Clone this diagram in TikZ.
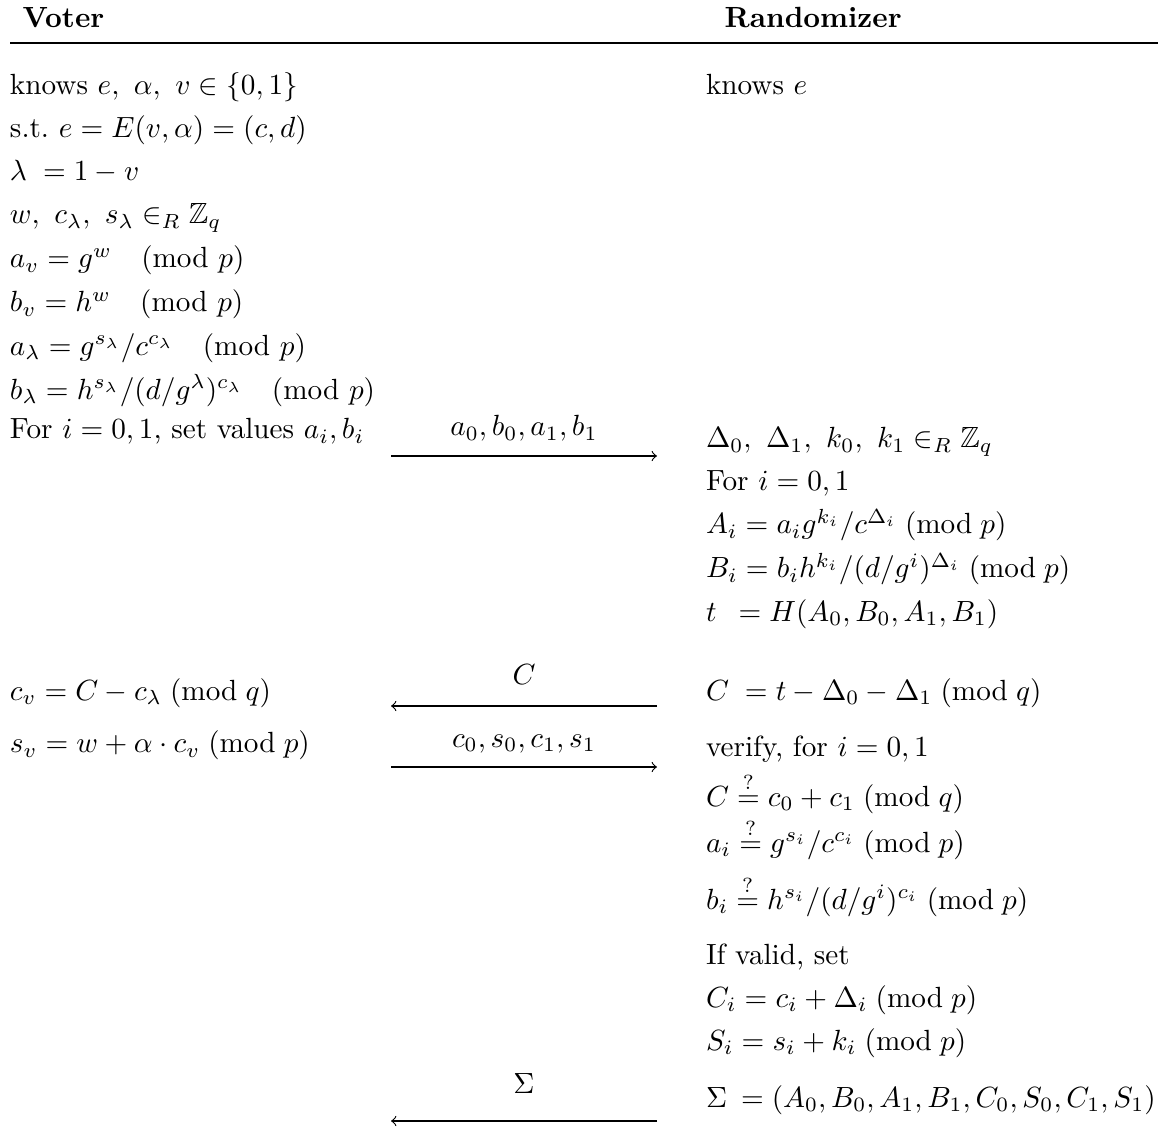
\documentclass[tikz,border=0pt]{standalone}
\usepackage{amsmath,amssymb}
\newcommand{\modx}[1]{\mkern5mu(\mathrm{mod}\mkern5mu #1)}
\begin{document}
\begin{tikzpicture}[x=0.3425pt,y=-0.3425pt,
  txt/.style={anchor=base west,inner sep=0pt,outer sep=0pt},
  lbl/.style={anchor=base,inner sep=0pt,outer sep=0pt},
  msg/.style={->,line width=0.4pt},
  hdr/.style={anchor=base west,inner sep=0pt,font=\bfseries}]
\useasboundingbox (0,0) rectangle (1162,1133);
% headers
\node[hdr] (hv) at (22,27.5) {Voter};
\node[hdr] (hr) at (724,27.5) {Randomizer};
\coordinate (rl) at (10,43);
\coordinate (rr) at (1158,43);
\draw[line width=0.5pt] (rl) -- (rr);
% voter column
\node[txt] (v1) at (10,94.5) {knows $e,\ \alpha,\ v\in\{0,1\}$};
\node[txt] (v2) at (10,137.5) {s.t.\ $e=E(v,\alpha)=(c,d)$};
\node[txt] (v3) at (10,180.5) {$\lambda\hspace{2.7pt}=1-v$};
\node[txt] (v4) at (10,224) {$w,\ c_\lambda,\ s_\lambda\in_R\mathbb{Z}_q$};
\node[txt] (v5) at (10,268) {$a_v=g^w\quad(\mathrm{mod}\ p)$};
\node[txt] (v6) at (10,312) {$b_v=h^w\quad(\mathrm{mod}\ p)$};
\node[txt] (v7) at (10,355.5) {$a_\lambda=g^{s_\lambda}/c^{c_\lambda}\quad(\mathrm{mod}\ p)$};
\node[txt] (v8) at (10,399.5) {$b_\lambda=h^{s_\lambda}/(d/g^\lambda)^{c_\lambda}\quad(\mathrm{mod}\ p)$};
\node[txt] (v9) at (10,439) {For $i=0,1$, set values $a_i,b_i$};
\node[txt] (v10) at (10,700) {$c_v=C-c_\lambda\modx q$};
\node[txt] (v11) at (10,753) {$s_v=w+\alpha\cdot c_v\modx p$};
% randomizer column
\node[txt] (r1) at (706,94.5) {knows $e$};
\node[txt] (r2) at (706,448) {$\Delta_0,\ \Delta_1,\ k_0,\ k_1\in_R\mathbb{Z}_q$};
\node[txt] (r3) at (706,490) {For $i=0,1$};
\node[txt] (r4) at (706,534) {$A_i=a_ig^{k_i}/c^{\Delta_i}\modx p$};
\node[txt] (r5) at (706,578) {$B_i=b_ih^{k_i}/(d/g^i)^{\Delta_i}\modx p$};
\node[txt] (r6) at (706,621) {$t\hspace{4.8pt}=H(A_0,B_0,A_1,B_1)$};
\node[txt] (r7) at (706,700) {$C\hspace{2.7pt}=t-\Delta_0-\Delta_1\modx q$};
\node[txt] (r8) at (706,756) {verify, for $i=0,1$};
\node[txt] (r9) at (706,806) {$C\stackrel{?}{=}c_0+c_1\modx q$};
\node[txt] (r10) at (706,852) {$a_i\stackrel{?}{=}g^{s_i}/c^{c_i}\modx p$};
\node[txt] (r11) at (706,909) {$b_i\stackrel{?}{=}h^{s_i}/(d/g^i)^{c_i}\modx p$};
\node[txt] (r12) at (706,964) {If valid, set};
\node[txt] (r13) at (706,1007) {$C_i=c_i+\Delta_i\modx p$};
\node[txt] (r14) at (706,1050) {$S_i=s_i+k_i\modx p$};
\node[txt] (r15) at (706,1107) {$\Sigma\hspace{2pt}=(A_0,B_0,A_1,B_1,C_0,S_0,C_1,S_1)$};
% messages
\coordinate (m1a) at (391,456); \coordinate (m1b) at (657,456);
\draw[msg] (m1a) -- (m1b);
\node[lbl] (l1) at (524,436) {$a_0,b_0,a_1,b_1$};
\coordinate (m2a) at (657,706); \coordinate (m2b) at (391,706);
\draw[msg] (m2a) -- (m2b);
\node[lbl] (l2) at (524,685) {$C$};
\coordinate (m3a) at (391,767); \coordinate (m3b) at (657,767);
\draw[msg] (m3a) -- (m3b);
\node[lbl] (l3) at (524,747) {$c_0,s_0,c_1,s_1$};
\coordinate (m4a) at (657,1121); \coordinate (m4b) at (391,1121);
\draw[msg] (m4a) -- (m4b);
\node[lbl] (l4) at (524,1093) {$\Sigma$};
\end{tikzpicture}
\end{document}
